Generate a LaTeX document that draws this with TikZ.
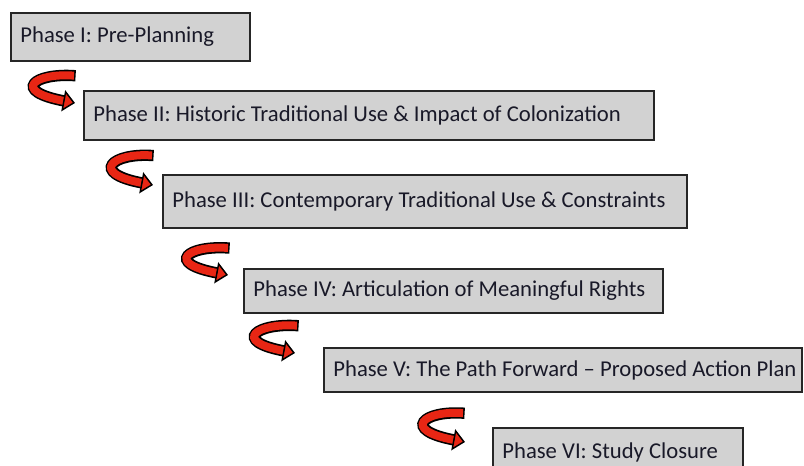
\documentclass[tikz,border=0pt]{standalone}
\usepackage{fontspec}
\setmainfont{Carlito}
\usetikzlibrary{calc}
\usetikzlibrary{arrows.meta}

\definecolor{boxgray}{RGB}{210,210,210}
\definecolor{arrowred}{RGB}{232,38,20}
\definecolor{textnavy}{RGB}{25,25,40}

\begin{document}
\begin{tikzpicture}[
    x = 0.75pt, y = -0.75pt,
    phase/.style = {shape = rectangle, draw = black!85, fill = boxgray, line width = 1.6pt, anchor = north west, inner xsep = 7pt, text width = #1, align = flush left, text = textnavy, font = \fontsize{17}{20}\selectfont},
    turn/.style = {draw = arrowred, line width = 6pt, -{Triangle[length = 9pt, width = 16pt, color = black, fill = arrowred, line width = 1.1pt]}, preaction = {draw = black, line width = 8.5pt, arrows = -, shorten >= 8pt, shorten <= -1.2pt}},
    ]
    \clip (0,0) rectangle (804,466);
    \node[phase = 165pt, minimum height = 36pt] (p1) at (10,12) {Phase I: Pre-Planning};
    \node[phase = 413.5pt, minimum height = 37pt] (p2) at (83,90) {Phase II: Historic Traditional Use \& Impact of Colonization};
    \node[phase = 379pt, minimum height = 40pt] (p3) at (162,174) {Phase III: Contemporary Traditional Use \& Constraints};
    \node[phase = 300pt, minimum height = 33pt] (p4) at (243,268) {Phase IV: Articulation of Meaningful Rights};
    \node[phase = 344.5pt, minimum height = 33pt] (p5) at (323,347) {\mbox{Phase V: The Path Forward – Proposed Action Plan}};
    \node[phase = 173.5pt, minimum height = 36pt] (p6) at (492,427) {Phase VI: Study Closure};

    \foreach \a/\b/\sx/\sy/\ex/\ey in {p1/p2/64/13.5/-8/13, p2/p3/69/14/-9/11, p3/p4/66/18.5/-15/7, p4/p5/54/11.5/-28/6, p5/p6/140/20/-27/15}
        \draw[turn] ($(\a.south west)+(\sx,\sy)$) .. controls +(-40,-3) and +(-64,-12) .. ($(\b.north west)+(\ex,\ey)$);
\end{tikzpicture}
\end{document}
